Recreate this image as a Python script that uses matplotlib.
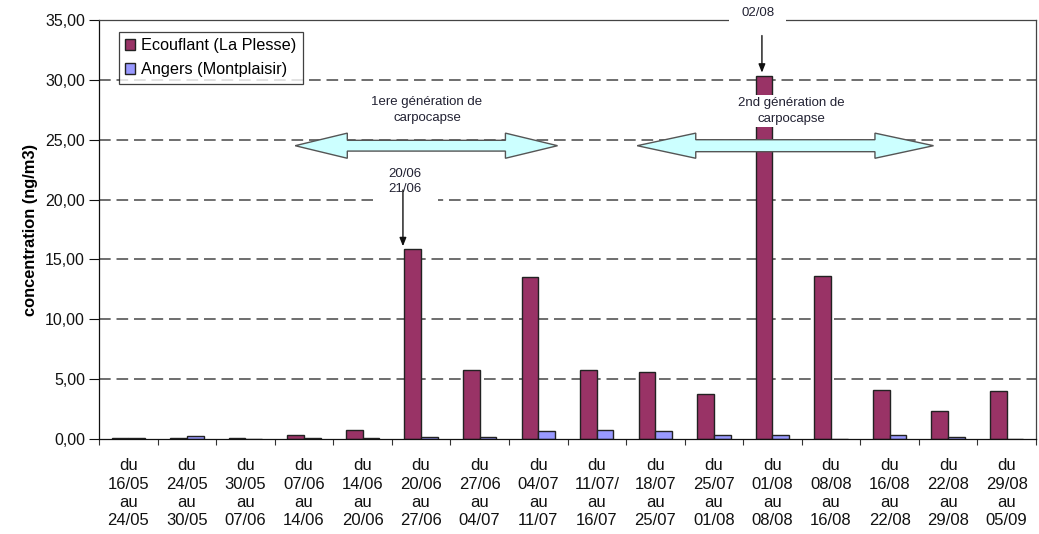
import numpy as np
import matplotlib
matplotlib.use("Agg")
import matplotlib.pyplot as plt
from matplotlib.patches import Polygon
from matplotlib.ticker import FuncFormatter, FixedLocator

plt.rcParams['font.family'] = ['Liberation Sans', 'DejaVu Sans']

# ---- data ----
period_start = ['16/05', '24/05', '30/05', '07/06', '14/06', '20/06', '27/06', '04/07',
                '11/07/', '18/07', '25/07', '01/08', '08/08', '16/08', '22/08', '29/08']
period_end = ['24/05', '30/05', '07/06', '14/06', '20/06', '27/06', '04/07', '11/07',
              '16/07', '25/07', '01/08', '08/08', '16/08', '22/08', '29/08', '05/09']
ecouflant = [0.08, 0.05, 0.05, 0.30, 0.72, 15.9, 5.75, 13.5,
             5.75, 5.6, 3.8, 30.3, 13.65, 4.1, 2.36, 4.0]
angers = [0.05, 0.22, 0.0, 0.05, 0.05, 0.2, 0.2, 0.64,
          0.72, 0.64, 0.3, 0.3, 0.0, 0.3, 0.2, 0.0]
series_names = ['Ecouflant (La Plesse)', 'Angers (Montplaisir)']
y_label = 'concentration (ng/m3)'

labels = [f"du\n{s}\nau\n{e}" for s, e in zip(period_start, period_end)]

fig = plt.figure(figsize=(10.39, 5.34), dpi=100)
ax = fig.add_axes([99 / 1039, (534 - 439) / 534, (1036 - 99) / 1039, (439 - 20) / 534])

x = np.arange(len(labels))
w = 0.285
ax.bar(x - w / 2, ecouflant, w, color='#993366', edgecolor='#222222', linewidth=1.0,
       label=series_names[0], zorder=2)
ax.bar(x + w / 2, angers, w, color='#9999FF', edgecolor='#222222', linewidth=1.0,
       label=series_names[1], zorder=2)

ax.set_xlim(-0.5, len(labels) - 0.5)
ax.set_ylim(0, 35)
ax.set_yticks(np.arange(0, 35.01, 5))
ax.yaxis.set_major_formatter(FuncFormatter(lambda v, p: f"{v:.2f}".replace('.', ',')))
for yv in np.arange(5, 31, 5):
    ax.axhline(yv, color='#555555', lw=1.2, dashes=(7, 3.5), zorder=0.5)

# x ticks between categories, labels at centers
ax.xaxis.set_major_locator(FixedLocator(np.arange(-0.5, len(labels), 1.0)))
ax.xaxis.set_major_formatter(FuncFormatter(lambda v, p: ''))
ax.xaxis.set_minor_locator(FixedLocator(x))
ax.set_xticklabels(labels, minor=True)
ax.tick_params(axis='x', which='major', direction='out', length=4, width=0.8, color='#333333')
ax.tick_params(axis='x', which='minor', length=0, pad=14, labelsize=12, colors='#111111')
for t in ax.get_xticklabels(minor=True):
    t.set_linespacing(1.26)
ax.tick_params(axis='y', direction='out', length=7, width=0.8, pad=3, labelsize=11.5,
               colors='#111111')

ax.set_ylabel(y_label, fontsize=11.8, fontweight='bold', labelpad=5)

for side in ['left', 'bottom']:
    ax.spines[side].set_color('#111111')
    ax.spines[side].set_linewidth(0.9)
for side in ['top', 'right']:
    ax.spines[side].set_color('#444444')
    ax.spines[side].set_linewidth(0.9)

leg = ax.legend(loc='upper left', bbox_to_anchor=(0.021, 0.972), borderaxespad=0,
                fontsize=11.7, frameon=True, fancybox=False, edgecolor='#111111',
                handlelength=0.6, handleheight=0.6, handletextpad=0.4,
                labelspacing=0.55, borderpad=0.4)
leg.get_frame().set_linewidth(0.9)
leg.set_zorder(6)


def double_arrow(x0, x1, yc, head_len, head_half, shaft_half):
    pts = [(x0, yc), (x0 + head_len, yc + head_half), (x0 + head_len, yc + shaft_half),
           (x1 - head_len, yc + shaft_half), (x1 - head_len, yc + head_half), (x1, yc),
           (x1 - head_len, yc - head_half), (x1 - head_len, yc - shaft_half),
           (x0 + head_len, yc - shaft_half), (x0 + head_len, yc - head_half)]
    ax.add_patch(Polygon(pts, closed=True, facecolor='#CCFFFF', edgecolor='#555555',
                         lw=1.0, zorder=3))


double_arrow(2.85, 7.33, 24.5, 0.89, 1.05, 0.45)
double_arrow(8.69, 13.75, 24.5, 1.0, 1.05, 0.5)

tc = '#222233'
fs_ann = 9.5
ax.text(5.1, 27.5, '1ere génération de\ncarpocapse', ha='center', va='center',
        fontsize=fs_ann, color=tc, linespacing=1.4, zorder=4,
        bbox=dict(boxstyle='square,pad=0.2', fc='white', ec='none'))
ax.text(11.33, 27.4, '2nd génération de\ncarpocapse', ha='center', va='center',
        fontsize=fs_ann, color=tc, linespacing=1.4, zorder=4,
        bbox=dict(boxstyle='square,pad=0.2', fc='white', ec='none'))
ax.text(4.73, 21.5, '20/06\n21/06', ha='center', va='center', fontsize=fs_ann, color=tc,
        linespacing=1.4, zorder=4,
        bbox=dict(boxstyle='square,pad=1.2', fc='white', ec='none'))
ax.text(10.75, 35.55, '02/08', ha='center', va='center', fontsize=fs_ann, color=tc,
        zorder=4, clip_on=False,
        bbox=dict(boxstyle='square,pad=0.9', fc='white', ec='none'))

arrow_kw = dict(arrowstyle='-|>,head_length=0.5,head_width=0.2', color='#111111', lw=1.0,
                shrinkA=0, shrinkB=0)
ax.annotate('', xy=(4.69, 16.1), xytext=(4.69, 20.8), arrowprops=arrow_kw, zorder=5)
ax.annotate('', xy=(10.82, 30.6), xytext=(10.82, 33.7), arrowprops=arrow_kw, zorder=5)

fig.savefig('out.png', dpi=100)
